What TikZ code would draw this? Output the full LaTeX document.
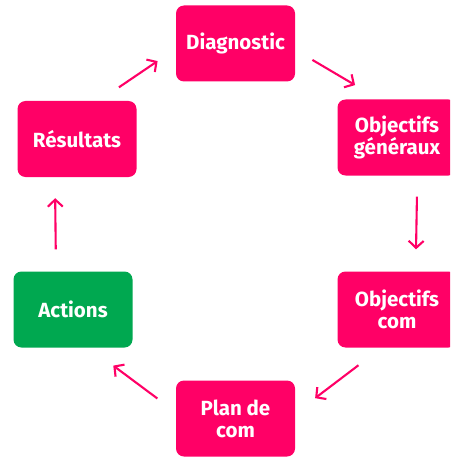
\documentclass[tikz,border=0pt]{standalone}
\usepackage{fontspec}
\setmainfont{Fira Sans}
\usepackage{tikz}
\usetikzlibrary{arrows.meta}
\definecolor{compink}{RGB}{255,0,102}
\definecolor{comgreen}{RGB}{0,168,80}

\begin{document}
\begin{tikzpicture}[x=1pt,y=-1pt,
    stage/.style={fill=compink, rounded corners=8pt, minimum width=119pt, minimum height=76pt,
      inner sep=0pt, align=center, text=white, font=\fontsize{20.5}{22}\selectfont\bfseries},
    flow/.style={draw=compink, line width=2.1pt, -{Straight Barb[length=7pt,width=15pt]}}]
    % page frame: 1pt = 1 px of the reference
    \useasboundingbox (0,0) rectangle (450,457);
    \clip (0,0) rectangle (450,457);
    % stages of the cycle
    \node[stage] (diag) at (235.5,43.5) {Diagnostic};
    \node[stage] (obgen) at (397,137.5) {Objectifs\\généraux};
    \node[stage] (obcom) at (397,309.5) {Objectifs\\com};
    \node[stage] (plan) at (235.5,418.5) {Plan de\\com};
    \node[stage, fill=comgreen] (act) at (73,309.5) {Actions};
    \node[stage] (res) at (77,139) {Résultats};
    % arrows, clockwise
    \draw[flow, shorten <=20pt, shorten >=28pt] (diag.354) -- (obgen.115);
    \draw[flow, shorten <=21pt, shorten >=22pt] (obgen.298) -- (obcom.64);
    \draw[flow, shorten <=29pt, shorten >=25pt] (obcom.248) -- (plan.5);
    \draw[flow, shorten <=23pt, shorten >=30pt] (plan.174) -- (act.293);
    \draw[flow, shorten <=22pt, shorten >=21pt] (act.114) -- (res.240);
    \draw[flow, shorten <=24pt, shorten >=22pt] (res.60) -- (diag.185);
\end{tikzpicture}
\end{document}
